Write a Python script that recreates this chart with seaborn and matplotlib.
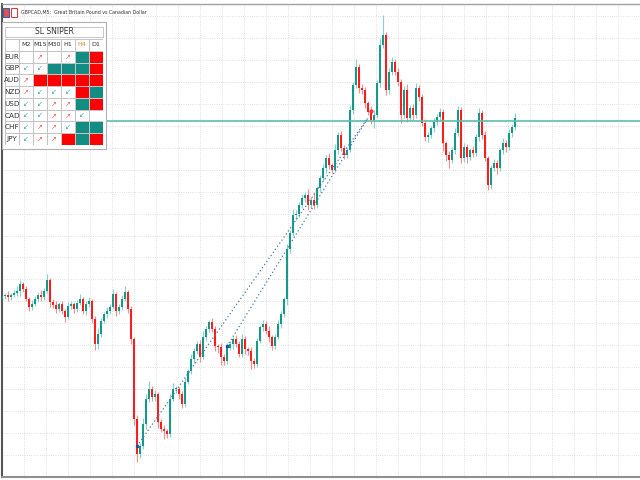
import numpy as np
import pandas as pd
import seaborn as sns
import matplotlib.pyplot as plt
from matplotlib.colors import ListedColormap
from matplotlib.patches import Rectangle

# GBPCAD M5 candles, prices in pips above 1.7000
closes = [203, 204, 202, 204, 206, 208, 215, 210, 200, 192, 195, 200, 204, 202, 208, 219, 197, 194, 190, 195,
          188, 182, 193, 195, 190, 196, 200, 188, 195, 198, 180, 155, 165, 178, 185, 188, 192, 205, 188, 192,
          200, 207, 190, 160, 80, 45, 53, 75, 100, 110, 102, 105, 77, 70, 68, 65, 100, 110, 110, 105,
          95, 117, 128, 140, 148, 155, 142, 162, 170, 177, 170, 153, 152, 142, 138, 151, 155, 160, 155, 145,
          160, 150, 148, 138, 135, 158, 172, 175, 168, 162, 153, 162, 175, 185, 200, 250, 267, 285, 286, 295,
          302, 305, 295, 300, 295, 312, 322, 332, 342, 335, 330, 350, 365, 352, 345, 350, 390, 415, 433, 412,
          410, 397, 388, 380, 385, 417, 455, 465, 410, 428, 438, 428, 418, 385, 410, 382, 392, 385, 412, 403,
          377, 363, 365, 372, 378, 383, 388, 357, 345, 340, 350, 367, 390, 342, 353, 343, 350, 347, 363, 387,
          365, 342, 315, 332, 337, 332, 350, 357, 353, 367, 373, 382]
first_open = 200
upper_wick = [3, 2, 4, 2, 3, 5, 4, 2, 3, 2, 4, 3, 2, 5, 3, 6, 2, 3, 4, 2,
              3, 2, 4, 3, 2, 3, 5, 2, 3, 4, 2, 3, 6, 3, 2, 4, 3, 5, 2, 3,
              4, 6, 2, 3, 2, 4, 3, 6, 5, 8, 3, 4, 2, 3, 4, 2, 5, 6, 3, 2,
              3, 4, 2, 5, 3, 3, 4, 6, 3, 2, 4, 3, 2, 4, 3, 5, 3, 2, 4, 3,
              5, 3, 2, 4, 3, 3, 2, 4, 3, 5, 2, 3, 4, 3, 2, 5, 3, 6, 4, 3,
              4, 3, 6, 3, 8, 2, 3, 4, 3, 5, 2, 6, 3, 4, 3, 2, 5, 3, 8, 3,
              4, 3, 2, 6, 5, 3, 6, 20, 3, 4, 5, 3, 4, 3, 4, 6, 3, 4, 5, 3,
              3, 4, 3, 2, 4, 3, 4, 3, 2, 4, 3, 5, 4, 3, 4, 3, 2, 4, 3, 5,
              3, 4, 2, 3, 4, 3, 2, 5, 3, 4, 3, 5]
lower_wick = [2, 3, 4, 3, 2, 3, 5, 3, 2, 4, 3, 2, 3, 4, 3, 2, 5, 3, 4, 3,
              3, 5, 2, 3, 4, 3, 2, 3, 4, 3, 4, 6, 5, 3, 2, 4, 3, 2, 5, 3,
              3, 2, 4, 5, 6, 8, 4, 3, 5, 3, 4, 4, 6, 3, 8, 4, 3, 2, 4, 5,
              4, 3, 2, 3, 4, 3, 5, 2, 4, 3, 3, 5, 6, 8, 4, 3, 2, 5, 3, 3,
              3, 5, 4, 8, 4, 3, 2, 4, 3, 5, 4, 3, 2, 4, 3, 6, 4, 3, 5, 3,
              3, 4, 5, 3, 4, 3, 4, 3, 5, 4, 3, 2, 4, 3, 4, 3, 2, 4, 3, 5,
              4, 5, 3, 4, 8, 3, 4, 3, 5, 4, 3, 3, 4, 8, 3, 4, 3, 5, 3, 4,
              3, 4, 5, 3, 4, 3, 4, 8, 6, 8, 3, 4, 3, 5, 4, 6, 3, 4, 3, 4,
              4, 3, 5, 4, 3, 6, 3, 4, 5, 3, 4, 3]

level_pips = 379
trend_start_idx = [45, 75]
trend_start_pips = [53, 153]
trend_end_idx = 122
trend_end_pips = 382

# SL SNIPER table
currencies = ['EUR', 'GBP', 'AUD', 'NZD', 'USD', 'CAD', 'CHF', 'JPY']
timeframes = ['M2', 'M15', 'M30', 'H1', 'H4', 'D1']
fills = [[0, 0, 0, 0, 1, 2],
         [0, 0, 1, 1, 1, 2],
         [0, 2, 2, 2, 2, 2],
         [0, 0, 0, 0, 2, 1],
         [0, 0, 0, 0, 1, 2],
         [0, 0, 0, 0, 0, 0],
         [0, 0, 0, 0, 1, 1],
         [0, 0, 0, 2, 1, 2]]
arrows = [['', 'd', '', 'd', '', ''],
          ['u', 'u', '', '', '', ''],
          ['d', '', '', '', '', ''],
          ['d', 'u', 'u', 'u', '', ''],
          ['u', 'u', 'd', 'd', '', ''],
          ['u', 'u', 'd', 'd', 'u', ''],
          ['u', 'd', 'd', 'u', '', ''],
          ['u', 'd', 'd', '', '', '']]

sns.set_style('white')
plt.rcParams['font.family'] = ['DejaVu Sans']
narrow = ['Liberation Sans Narrow', 'DejaVu Sans']

opens = [first_open] + closes[:-1]
df = pd.DataFrame({'open': opens, 'close': closes})
df['high'] = df[['open', 'close']].max(axis=1) + upper_wick
df['low'] = df[['open', 'close']].min(axis=1) - lower_wick
df[['open', 'close', 'high', 'low']] = 1.7 + df[['open', 'close', 'high', 'low']] / 10000
df['idx'] = np.arange(len(df))
bull = df['close'] >= df['open']

fig = plt.figure(figsize=(6.4, 4.8), dpi=100)
ax = fig.add_axes([2 / 640, 3 / 480, 638 / 640, 473 / 480])

body_col = np.where(bull, '#12998b', '#ff1c1c')
wick_col = np.where(bull, '#86d3c8', '#ff8c8c')
ax.vlines(df['idx'], df['low'], df['high'], colors=wick_col, lw=0.8, zorder=2)
height = (df['close'] - df['open']).where(lambda s: s.abs() > 0.00005, 0.00008)
ax.bar(df['idx'], height, bottom=df['open'], width=0.42, color=body_col, lw=0, zorder=3)

ax.axhline(1.7 + level_pips / 10000, color='#5bbcaf', lw=1.2, zorder=4)
for si, sp in zip(trend_start_idx, trend_start_pips):
    ax.plot([si, trend_end_idx], [1.7 + sp / 10000, 1.7 + trend_end_pips / 10000],
            ls=(0, (1, 2)), color='#4a78b8', lw=0.9, zorder=4)
    ax.plot(si, 1.7 + sp / 10000, 's', ms=2, color='#2050a0', zorder=5)
ax.plot(trend_end_idx + 1, 1.7 + (trend_end_pips + 7) / 10000, 'o', ms=2, color='#ff3030', zorder=5)

ax.set_xlim(0, 638 / 3)
ax.set_ylim(1.7023, 1.7496)
ax.set_xticks(np.arange(0, 213, 22 / 3))
ax.set_yticks(1.7 + np.arange(484, 20, -22) / 10000)
ax.grid(True, ls=':', color='#d6d6d6', lw=0.6)
ax.tick_params(length=0, labelleft=False, labelbottom=False)
ax.spines['right'].set_visible(False)
ax.spines['left'].set_color('#555555')
ax.spines['left'].set_linewidth(1.5)
ax.spines['bottom'].set_color('#909090')
ax.spines['bottom'].set_linewidth(1.5)
ax.spines['top'].set_color('#a0a0a0')
ax.spines['top'].set_linewidth(1.0)

# chart title with symbol icons
fig.patches.append(Rectangle((3 / 640, 1 - 17 / 480), 6 / 640, 9 / 480, transform=fig.transFigure,
                             facecolor='#e85050', edgecolor='#3060c0', lw=0.8))
fig.patches.append(Rectangle((11 / 640, 1 - 17 / 480), 6 / 640, 9 / 480, transform=fig.transFigure,
                             facecolor='#ffffff', edgecolor='#d04040', lw=0.8))
fig.text(21 / 640, 1 - 12.5 / 480, 'GBPCAD,M5:  Great Britain Pound vs Canadian Dollar',
         fontsize=3.4, family=narrow, color='#333333', va='center')

# table panel
fig.patches.append(Rectangle((2 / 640, 1 - 149 / 480), 104 / 640, 127 / 480, transform=fig.transFigure,
                             facecolor='white', edgecolor='#b0b0b0', lw=0.8, zorder=5))
fig.patches.append(Rectangle((5 / 640, 1 - 37 / 480), 98 / 640, 10 / 480, transform=fig.transFigure,
                             facecolor='white', edgecolor='#bdbdbd', lw=0.6, zorder=6))
fig.text(54 / 640, 1 - 32 / 480, 'SL SNIPER', fontsize=5.5, family=narrow, color='#333333',
         ha='center', va='center', zorder=7)

grid = np.zeros((9, 7))
grid[1:, 1:] = np.array(fills)
tax = fig.add_axes([5 / 640, 1 - 145 / 480, 98 / 640, 106 / 480])
tax.set_zorder(8)
sns.heatmap(grid, ax=tax, cmap=ListedColormap(['#ffffff', '#138c84', '#ff0000']), vmin=0, vmax=2,
            cbar=False, linewidths=0.6, linecolor='#c4c4c4', xticklabels=False, yticklabels=False)
for j, tf in enumerate(timeframes):
    tax.text(j + 1.5, 0.5, tf, fontsize=4.6, family=narrow, ha='center', va='center',
             color='#e08a2a' if tf == 'H4' else '#333333')
for i, cur in enumerate(currencies):
    tax.text(0.5, i + 1.5, cur, fontsize=5.2, family=narrow, ha='center', va='center', color='#333333')
    for j, a in enumerate(arrows[i]):
        if a:
            tax.text(j + 1.5, i + 1.5, '\u2197' if a == 'd' else '\u2199', fontsize=5,
                     ha='center', va='center', color='#ff5a5a' if a == 'd' else '#4aa6b0')

fig.savefig('out.png', dpi=100)
